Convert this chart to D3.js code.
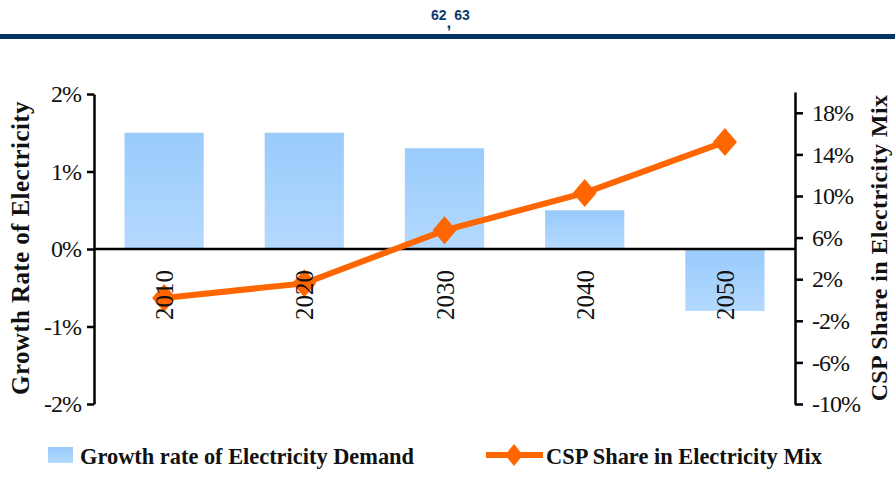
<!DOCTYPE html>
<html>
<head>
<meta charset="utf-8">
<script src="https://cdn.jsdelivr.net/npm/d3@7"></script>
<style>
  body { margin: 0; background: #fff; }
  svg { display: block; }
</style>
</head>
<body>
<div id="chart"></div>
<script>
// Chart data
var years = ["2010", "2020", "2030", "2040", "2050"];
var demandGrowth = [1.5, 1.5, 1.3, 0.5, -0.8];   // % (left axis)
var cspShare = [0.2, 1.6, 6.7, 10.3, 15.2];      // % (right axis)
var leftTicks = [-2, -1, 0, 1, 2];
var rightTicks = [-10, -6, -2, 2, 6, 10, 14, 18];

var width = 895, height = 498;
var serif = "'Liberation Serif', 'Times New Roman', serif";

var svg = d3.select("#chart")
    .append("svg")
    .attr("width", width)
    .attr("height", height);

// Bar gradient
var defs = svg.append("defs");
var grad = defs.append("linearGradient")
    .attr("id", "barGrad")
    .attr("x1", 0).attr("y1", 0).attr("x2", 0).attr("y2", 1);
grad.append("stop").attr("offset", "0%").attr("stop-color", "#99cbfc");
grad.append("stop").attr("offset", "100%").attr("stop-color", "#b4d9fe");

// Header
var hdr = svg.append("text")
    .attr("x", 431).attr("y", 20)
    .style("font-family", "'Liberation Sans Narrow', 'Liberation Sans', sans-serif")
    .style("font-weight", "bold")
    .style("font-size", "14px")
    .attr("fill", "#0b3b6e");
hdr.append("tspan").text("62");
hdr.append("tspan").attr("dy", 8).style("font-size", "17px").text(",");
hdr.append("tspan").attr("dy", -8).attr("dx", 3).text("63");

svg.append("rect")
    .attr("x", 0).attr("y", 34)
    .attr("width", width).attr("height", 5)
    .attr("fill", "#003366");

// Scales
var x = d3.scalePoint()
    .domain(years)
    .range([94, 795])
    .padding(0.5);
var barW = x.step() * 0.565;

var yL = d3.scaleLinear()
    .domain([-2, 2])
    .range([404, 94]);

var yR = d3.scaleLinear()
    .domain([-10, 20])
    .range([404, 92]);

// Bars
svg.append("g")
    .selectAll("rect")
    .data(demandGrowth)
    .enter()
    .append("rect")
    .attr("x", function (d, i) { return x(years[i]) - barW / 2; })
    .attr("y", function (d) { return yL(Math.max(0, d)); })
    .attr("width", barW)
    .attr("height", function (d) { return Math.abs(yL(d) - yL(0)); })
    .attr("fill", "url(#barGrad)");

// Left axis
var axL = svg.append("g")
    .attr("transform", "translate(94,0)")
    .call(d3.axisLeft(yL).tickValues(leftTicks).tickSize(7).tickSizeOuter(0).tickPadding(6)
        .tickFormat(function (d) { return d + "%"; }));

// Right axis
var axR = svg.append("g")
    .attr("transform", "translate(795,0)")
    .call(d3.axisRight(yR).tickValues(rightTicks).tickSize(8).tickSizeOuter(0).tickPadding(9)
        .tickFormat(function (d) { return d + "%"; }));

[axL, axR].forEach(function (ax) {
    ax.select(".domain").attr("stroke", "#000").attr("stroke-width", 2.5);
    ax.selectAll(".tick line").attr("stroke", "#000").attr("stroke-width", 2.5);
    ax.selectAll(".tick text")
        .attr("fill", "#111")
        .style("font-family", serif)
        .style("font-size", "24px")
        .style("letter-spacing", "-1px");
});

// Zero line
svg.append("line")
    .attr("x1", 94).attr("x2", 795)
    .attr("y1", yL(0)).attr("y2", yL(0))
    .attr("stroke", "#000")
    .attr("stroke-width", 2.5);

// CSP share line
var line = d3.line()
    .x(function (d, i) { return x(years[i]); })
    .y(function (d) { return yR(d); });

svg.append("path")
    .datum(cspShare)
    .attr("d", line)
    .attr("fill", "none")
    .attr("stroke", "#ff6600")
    .attr("stroke-width", 6);

function diamond(hw, hh) {
    return "M0," + (-hh) + "L" + hw + ",0L0," + hh + "L" + (-hw) + ",0Z";
}

svg.append("g")
    .selectAll("path")
    .data(cspShare)
    .enter()
    .append("path")
    .attr("transform", function (d, i) { return "translate(" + x(years[i]) + "," + yR(d) + ")"; })
    .attr("d", diamond(12, 14))
    .attr("fill", "#ff6600");

// Year labels
svg.append("g")
    .selectAll("text")
    .data(years)
    .enter()
    .append("text")
    .attr("transform", function (d) { return "translate(" + (x(d) + 9) + ",270) rotate(-90)"; })
    .attr("text-anchor", "end")
    .attr("fill", "#111")
    .style("font-family", serif)
    .style("font-size", "25px")
    .text(function (d) { return d; });

// Axis titles
svg.append("text")
    .attr("transform", "translate(29,248) rotate(-90)")
    .attr("text-anchor", "middle")
    .style("font-family", serif)
    .style("font-weight", "bold")
    .style("font-size", "25px")
    .style("letter-spacing", "0.4px")
    .attr("fill", "#111")
    .text("Growth Rate of Electricity");

svg.append("text")
    .attr("transform", "translate(887,248) rotate(-90)")
    .attr("text-anchor", "middle")
    .style("font-family", serif)
    .style("font-weight", "bold")
    .style("font-size", "24px")
    .style("letter-spacing", "0.4px")
    .attr("fill", "#111")
    .text("CSP Share in Electricity Mix");

// Legend
var leg = svg.append("g");
leg.append("rect")
    .attr("x", 48).attr("y", 447)
    .attr("width", 25).attr("height", 16)
    .attr("fill", "url(#barGrad)");
leg.append("text")
    .attr("x", 80).attr("y", 464)
    .attr("textLength", 334)
    .attr("lengthAdjust", "spacingAndGlyphs")
    .style("font-family", serif)
    .style("font-weight", "bold")
    .style("font-size", "23px")
    .attr("fill", "#111")
    .text("Growth rate of Electricity Demand");

leg.append("line")
    .attr("x1", 486).attr("x2", 543)
    .attr("y1", 455).attr("y2", 455)
    .attr("stroke", "#ff6600")
    .attr("stroke-width", 6);
leg.append("path")
    .attr("transform", "translate(514,455)")
    .attr("d", diamond(9, 11))
    .attr("fill", "#ff6600");
leg.append("text")
    .attr("x", 546).attr("y", 464)
    .attr("textLength", 276)
    .attr("lengthAdjust", "spacingAndGlyphs")
    .style("font-family", serif)
    .style("font-weight", "bold")
    .style("font-size", "23px")
    .attr("fill", "#111")
    .text("CSP Share in Electricity Mix");
</script>
</body>
</html>
